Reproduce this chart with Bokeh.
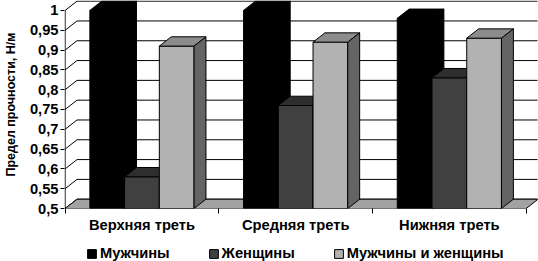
from bokeh.plotting import figure
from bokeh.models import FixedTicker, Legend, LegendItem, Range1d
from bokeh.layouts import column
from bokeh.embed import file_html
from bokeh.resources import INLINE

# ---------------- data ----------------
categories = ["Верхняя треть", "Средняя треть", "Нижняя треть"]
series_names = ["Мужчины", "Женщины", "Мужчины и женщины"]
men = [1.0, 1.0, 0.98]
women = [0.58, 0.76, 0.83]
both = [0.91, 0.92, 0.93]
y_ticks = [0.5, 0.55, 0.6, 0.65, 0.7, 0.75, 0.8, 0.85, 0.9, 0.95, 1.0]
y_tick_labels = ["0,5", "0,55", "0,6", "0,65", "0,7", "0,75", "0,8", "0,85", "0,9", "0,95", "1"]
y_title = "Предел прочности, Н/м"

series_values = [men, women, both]

# ---------------- style ----------------
FONT = "Liberation Sans"
front_colors = ["#000000", "#404040", "#b2b2b2"]
top_colors = ["#000000", "#2e2e2e", "#8c8c8c"]
side_colors = ["#000000", "#262626", "#646464"]
floor_color = "#a2a2a2"

BASE = y_ticks[0]
DX = 0.0774      # depth offset (category units)
DY = 0.0235      # depth offset (value units)
GAP = 0.161      # gap at each side of a group
W = 0.226        # bar width
N = len(categories)
X0 = -0.004

p = figure(width=538, height=235,
           x_range=Range1d(X0, X0 + 477 / 155), y_range=Range1d(BASE, BASE + 209 / 398),
           output_backend="svg", toolbar_location=None,
           min_border_left=60, min_border_right=1, min_border_top=0, min_border_bottom=26,
           outline_line_color=None, background_fill_color="white")
p.xgrid.visible = False
p.ygrid.visible = False

# walls: gridlines on the left side wall (diagonal) and on the back wall
p.segment(x0=[0] * len(y_ticks), y0=y_ticks,
          x1=[DX] * len(y_ticks), y1=[v + DY for v in y_ticks],
          line_color="black", line_width=1)
p.segment(x0=[DX] * len(y_ticks), y0=[v + DY for v in y_ticks],
          x1=[N + DX] * len(y_ticks), y1=[v + DY for v in y_ticks],
          line_color="black", line_width=1)

# floor
p.patch(x=[0, N, N + DX, DX], y=[BASE, BASE, BASE + DY, BASE + DY],
        fill_color=floor_color, line_color="black", line_width=1)

# front vertical axis line
p.segment(x0=[0], y0=[y_ticks[0]], x1=[0], y1=[y_ticks[-1]], line_color="black", line_width=1)

# bars
for j, vals in enumerate(series_values):
    fx, fy, tx, ty, sx, sy = [], [], [], [], [], []
    for g, v in enumerate(vals):
        L = g + GAP + j * W
        R = L + W
        fx.append([L, R, R, L]); fy.append([BASE, BASE, v, v])
        tx.append([L, R, R + DX, L + DX]); ty.append([v, v, v + DY, v + DY])
        sx.append([R, R + DX, R + DX, R]); sy.append([BASE, BASE + DY, v + DY, v])
    p.patches(xs=fx, ys=fy, fill_color=front_colors[j], line_color="black", line_width=1)
    p.patches(xs=tx, ys=ty, fill_color=top_colors[j], line_color="black", line_width=1)
    p.patches(xs=sx, ys=sy, fill_color=side_colors[j], line_color="black", line_width=1)

# y axis
ya = p.yaxis[0]
ya.ticker = FixedTicker(ticks=y_ticks)
ya.major_label_overrides = dict(zip(y_ticks, y_tick_labels))
ya.axis_line_color = None
ya.minor_tick_line_color = None
ya.major_tick_out = 4
ya.major_tick_in = 0
ya.major_label_standoff = 2
ya.major_label_text_font = FONT
ya.major_label_text_font_style = "bold"
ya.major_label_text_font_size = "14.7px"
ya.major_label_text_color = "black"
ya.axis_label = y_title
ya.axis_label_text_font = FONT
ya.axis_label_text_font_style = "bold"
ya.axis_label_text_font_size = "12.5px"
ya.axis_label_text_color = "black"
ya.axis_label_standoff = 9

# x axis
xa = p.xaxis[0]
centers = [i + 0.5 for i in range(N)]
xa.ticker = FixedTicker(ticks=centers, minor_ticks=list(range(N + 1)))
xa.major_label_overrides = dict(zip(centers, categories))
xa.axis_line_color = None
xa.major_tick_out = 0
xa.major_tick_in = 0
xa.minor_tick_out = 5
xa.minor_tick_in = 0
xa.minor_tick_line_color = "black"
xa.major_label_standoff = 3
xa.major_label_text_font = FONT
xa.major_label_text_font_style = "bold"
xa.major_label_text_font_size = "14.7px"
xa.major_label_text_color = "black"

# legend strip below the chart (its frame is aligned with the chart frame)
p2 = figure(width=538, height=26, x_range=Range1d(0, 1), y_range=Range1d(0, 1),
            x_axis_type=None, y_axis_type=None, output_backend="svg",
            toolbar_location=None, min_border=0, outline_line_color=None)
p2.grid.visible = False
nan = float("nan")
items = []
for j, name in enumerate(series_names):
    # a single empty (NaN) patch: only used to give the legend its swatch
    r = p2.patches(xs=[[nan]], ys=[[nan]], fill_color=front_colors[j],
                   line_color="black", line_width=1)
    items.append(LegendItem(label=name, renderers=[r]))
legend = Legend(items=items, orientation="horizontal", location=(22, 0),
                glyph_width=11, glyph_height=11, label_standoff=3, spacing=38,
                label_height=16, padding=0, margin=0,
                border_line_color=None, background_fill_alpha=0,
                label_text_font=FONT, label_text_font_style="bold",
                label_text_font_size="14.7px", label_text_color="black")
p2.add_layout(legend)

layout = column(p, p2, spacing=0)
open("out.html", "w").write(file_html(layout, INLINE))
